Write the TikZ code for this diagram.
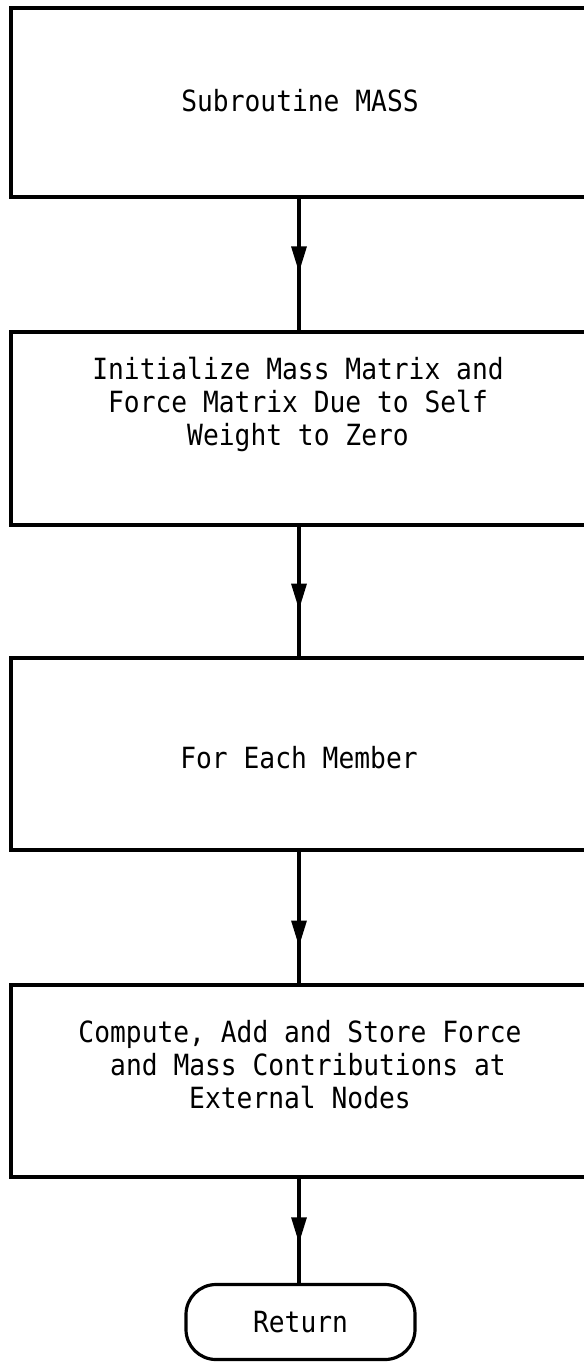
\documentclass[tikz,border=0pt]{standalone}
\usepackage{fontspec}
\newfontfamily\flowfont[FakeStretch=0.9]{DejaVu Sans Mono}
\usetikzlibrary{arrows.meta,decorations.markings}
\begin{document}
\begin{tikzpicture}[x=0.5pt,y=-0.5pt,
  box/.style={draw, line width=1.6pt, minimum width=288pt, inner sep=0pt},
  term/.style={draw, line width=1.6pt, rounded corners=15pt, minimum width=114.5pt, minimum height=37.5pt, inner sep=0pt, font=\flowfont\fontsize{14.6}{16.5}\selectfont},
  txt/.style={align=center, inner sep=0pt, font=\flowfont\fontsize{14.6}{16.5}\selectfont},
  conn/.style={line width=1.6pt},
  midarrow/.style={postaction={decorate}, decoration={markings, mark=at position #1 with {\arrow{Triangle[length=13pt,width=7.5pt]}}}}
]
\useasboundingbox (0,0) rectangle (583,1363);
\fill[white] (0,0) rectangle (583,1363);

\node[box, minimum height=94.5pt] (b1) at (299,102.5) {};
\node[box, minimum height=96.5pt] (b2) at (299,428.5) {};
\node[box, minimum height=96pt] (b3) at (299,754) {};
\node[box, minimum height=96pt] (b4) at (299,1081) {};
\node[term] (ret) at (300.5,1322) {Return};

\node[txt] (t1) at (300,101) {Subroutine MASS};
\node[txt] (t2) at (298,404) {Initialize Mass Matrix and\\Force Matrix Due to Self\\Weight to Zero};
\node[txt] (t3) at (299,758) {For Each Member};
\node[txt] (t4) at (300,1065) {Compute, Add and Store Force\\\hspace*{8pt}and Mass Contributions at\\External Nodes};

\draw[conn, midarrow=0.56] (b1.south) -- (b2.north);
\draw[conn, midarrow=0.64] (b2.south) -- (b3.north);
\draw[conn, midarrow=0.72] (b3.south) -- (b4.north);
\draw[conn, midarrow=0.62] (b4.south) -- (b4.south |- ret.north);
\end{tikzpicture}
\end{document}
